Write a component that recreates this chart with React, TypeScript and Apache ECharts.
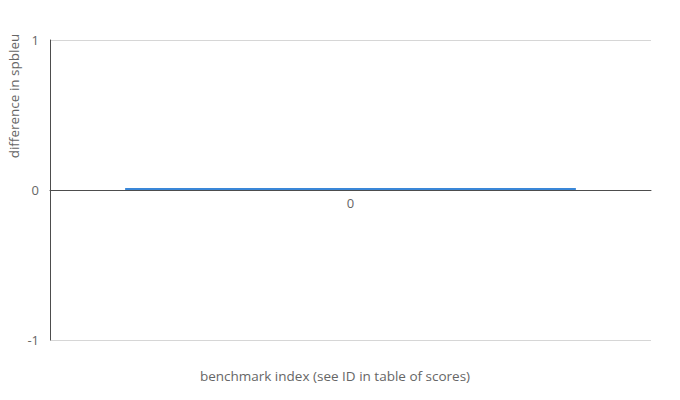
import * as React from "react";
import * as echarts from "echarts";

const categories = ["0"];
const values = [0];
const yTicks = [-1, 0, 1];
const xTitle = "benchmark index (see ID in table of scores)";
const yTitle = "difference in spbleu";

export default function App() {
  const ref = React.useRef<HTMLDivElement | null>(null);

  React.useEffect(() => {
    if (!ref.current) return;
    document.body.style.margin = "0";
    const chart = echarts.init(ref.current, undefined, { renderer: "svg" });
    const font = "Open Sans, sans-serif";
    chart.setOption({
      animation: false,
      backgroundColor: "#fff",
      textStyle: { fontFamily: font },
      grid: { left: 50, right: 29, top: 40, bottom: 60, outerBoundsMode: "none" },
      xAxis: {
        type: "category",
        data: categories,
        offset: -150,
        axisLine: { onZero: false, lineStyle: { color: "#4d4d4d", width: 1 } },
        axisTick: { show: false },
        axisLabel: { color: "#666", fontSize: 13, margin: 6 },
      },
      yAxis: {
        type: "value",
        min: yTicks[0],
        max: yTicks[yTicks.length - 1],
        interval: 1,
        axisLine: { show: true, lineStyle: { color: "#4d4d4d" } },
        axisTick: { show: false },
        axisLabel: { color: "#666", fontSize: 13, margin: 11 },
        splitLine: { lineStyle: { color: "#d6d6d6" } },
      },
      graphic: [
        {
          type: "text",
          x: 335,
          y: 376,
          style: {
            text: xTitle,
            fill: "#666",
            fontSize: 13.5,
            fontFamily: font,
            align: "center",
            verticalAlign: "middle",
          },
        },
        {
          type: "text",
          x: 14,
          y: 96,
          rotation: Math.PI / 2,
          style: {
            text: yTitle,
            fill: "#666",
            fontSize: 13.5,
            fontFamily: font,
            align: "center",
            verticalAlign: "middle",
          },
        },
      ],
      series: [
        {
          type: "bar",
          data: values,
          barWidth: "75%",
          barMinHeight: 2,
          z: 3,
          itemStyle: { color: "#3a87d8" },
        },
      ],
    });
    return () => chart.dispose();
  }, []);

  return <div ref={ref} style={{ width: 680, height: 400 }} />;
}
